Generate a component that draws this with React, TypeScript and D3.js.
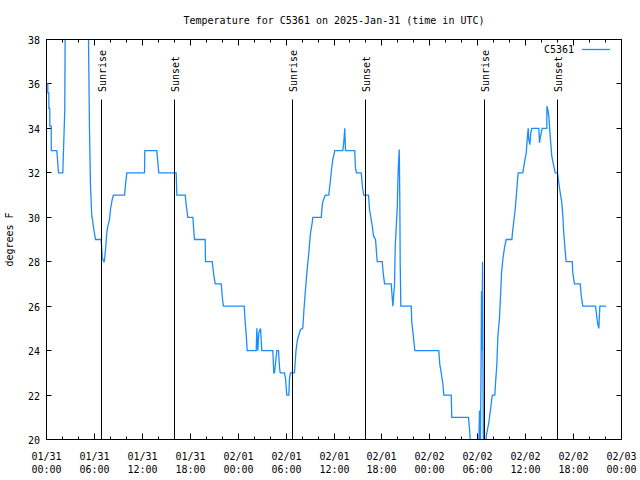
import React from 'react';
import * as d3 from 'd3';

const title = 'Temperature for C5361 on 2025-Jan-31 (time in UTC)';
const yAxisLabel = 'degrees F';
const seriesName = 'C5361';
const startUtc = Date.UTC(2025, 0, 31, 0, 0);
const endUtc = Date.UTC(2025, 1, 3, 0, 0);
const yTickValues = [20, 22, 24, 26, 28, 30, 32, 34, 36, 38];
const sunLabels = ['Sunrise', 'Sunset', 'Sunrise', 'Sunset', 'Sunrise', 'Sunset'];
const sunHours = [6.87, 16.0, 30.85, 39.95, 54.83, 63.95];

// hours since 2025-01-31 00:00 UTC
const hours = [
  0.0, 0.16, 0.17, 0.29, 0.3, 0.41, 0.42, 0.59, 0.6, 1.29, 1.38, 1.5, 2.04, 2.29, 2.34, 2.6, 4.9, 5.2, 5.26, 5.38,
  5.51, 5.67, 5.76, 5.92, 6.14, 6.85, 6.97, 7.18, 7.24, 7.39, 7.55, 7.68, 7.89, 8.01, 8.23, 8.39, 9.77, 9.89, 10.06, 12.27,
  12.31, 13.81, 14.06, 16.24, 16.32, 17.37, 17.49, 17.69, 18.32, 18.53, 19.87, 19.91, 20.75, 20.95, 21.12, 21.88, 22.04, 22.16, 24.76, 24.88,
  25.01, 25.13, 26.26, 26.34, 26.46, 26.59, 26.8, 26.96, 28.34, 28.46, 28.55, 28.84, 29.05, 29.18, 29.26, 29.8, 29.93, 30.09, 30.34, 30.43,
  30.55, 31.05, 31.24, 31.43, 31.81, 32.09, 32.24, 32.43, 32.64, 32.81, 32.93, 33.06, 33.27, 33.35, 34.4, 34.56, 34.9, 35.35, 35.56, 35.69,
  35.85, 36.1, 37.1, 37.22, 37.35, 37.44, 38.6, 38.69, 38.82, 39.41, 39.57, 39.73, 40.32, 40.45, 40.66, 40.79, 40.95, 41.2, 41.41, 42.04,
  42.16, 42.33, 43.16, 43.37, 43.58, 43.67, 43.92, 44.04, 44.17, 44.24, 44.29, 44.37, 45.67, 45.74, 45.92, 46.12, 49.12, 49.25, 49.43, 49.63,
  49.75, 50.68, 50.75, 52.84, 52.97, 53.1, 53.22, 54.06, 54.22, 54.31, 54.43, 54.47, 54.51, 54.6, 54.64, 54.73, 54.94, 55.06, 55.27, 55.39,
  55.57, 55.82, 56.14, 56.23, 56.39, 56.52, 56.73, 56.85, 56.98, 57.14, 57.35, 57.56, 58.27, 58.39, 58.69, 58.89, 59.06, 59.64, 59.85, 60.07,
  60.19, 60.32, 60.39, 60.52, 60.64, 60.77, 61.65, 61.73, 61.86, 62.07, 62.65, 62.66, 62.77, 62.9, 63.07, 63.27, 63.52, 63.7, 63.99, 64.15,
  64.33, 64.53, 64.66, 64.74, 64.95, 65.07, 65.83, 65.9, 66.11, 66.83, 66.95, 67.15, 68.75, 68.91, 69.04, 69.16, 69.29, 70.08,
];

const temps = [
  36, 36, 35.6, 35.6, 34.9, 34.9, 34.1, 34.1, 33, 33, 32.6, 32, 32, 34.85, 38.5, 41, 41, 39, 38, 34.04,
  31.4, 30.05, 29.9, 29.45, 29, 29, 28.2, 28, 28, 28.55, 29.3, 29.6, 29.9, 30.35, 30.8, 31, 31, 31.47, 32, 32,
  33, 33, 32, 32, 31, 31, 30.57, 30, 30, 29, 29, 28, 28, 27.4, 27, 27, 26.3, 26, 26, 25.27,
  24.7, 24, 24, 25, 24, 24.8, 25, 24, 24, 23, 23, 24, 24, 23.24, 23, 23, 22.75, 22, 22, 22.75,
  23, 23, 24, 24.5, 24.95, 25, 25.85, 26.75, 27.65, 28.25, 28.78, 29.3, 29.75, 30, 30, 30.65, 31, 31, 31.7, 32.15,
  32.6, 33, 33, 33.35, 34, 33, 33, 32.2, 32, 32, 31.34, 31, 31, 30.35, 29.9, 29.6, 29.15, 29, 28, 28,
  27.5, 27, 27, 26, 27, 28.7, 30.43, 32.15, 33.05, 30.8, 27.9, 26, 26, 25.27, 24.7, 24, 24, 23.37, 23, 22.5,
  22, 22, 21, 21, 20.45, 19.8, 18.6, 18.6, 21.3, 18.6, 24, 26.67, 24, 28, 24, 18.6, 18.6, 20.15, 20.54, 20.77,
  21.27, 22, 22, 22.56, 23.37, 24.65, 25.5, 26.45, 27.5, 28.1, 28.63, 29, 29, 29.45, 30.35, 31.25, 32, 32, 32.47, 32.9,
  33.5, 34, 33.5, 33.27, 33.8, 34, 34, 33.35, 33.65, 34, 34, 35, 34.85, 34.55, 33.65, 32.75, 32.3, 32, 32, 31.55,
  31.1, 30.65, 30.05, 29.45, 28.47, 28, 28, 27.5, 27, 27, 26.5, 26, 26, 25.5, 25.17, 25, 26, 26,
];

const W = 640;
const H = 480;
const left = 46.5;
const right = 621.5;
const top = 39.5;
const bottom = 439.5;
const FONT = '"DejaVu Sans Mono", "Liberation Mono", monospace';
const LINE_COLOR = '#1a8cff';

export default function App() {
  const x = d3.scaleUtc().domain([new Date(startUtc), new Date(endUtc)]).range([left, right]);
  const y = d3.scaleLinear().domain([20, 38]).range([bottom, top]);
  const hourMs = 3600 * 1000;
  const data = hours.map((h, i) => ({ t: new Date(startUtc + h * hourMs), v: temps[i] }));
  const line = d3
    .line<{ t: Date; v: number }>()
    .x((d) => x(d.t))
    .y((d) => y(d.v));

  const majorTicks = x.ticks(d3.utcHour.every(6)!);
  const minorTicks = x.ticks(d3.utcHour.every(2)!).filter((d) => d.getUTCHours() % 6 !== 0);
  const fmtDate = d3.utcFormat('%m/%d');
  const fmtTime = d3.utcFormat('%H:%M');
  const px = (v: number) => Math.floor(v) + 0.5;

  return (
    <svg
      width={W}
      height={H}
      viewBox={`0 0 ${W} ${H}`}
      style={{ position: 'absolute', left: 0, top: 0, background: '#fff', display: 'block' }}
      fontFamily={FONT}
      fontSize={10}
    >
      <rect x={0} y={0} width={W} height={H} fill="#fff" />
      <defs>
        <clipPath id="plotclip">
          <rect x={left} y={top} width={right - left} height={bottom - top} />
        </clipPath>
      </defs>

      {/* title */}
      <text x={(left + right) / 2} y={24} textAnchor="middle" fill="#000">
        {title}
      </text>

      {/* y axis label */}
      <text transform={`translate(13,${(top + bottom) / 2}) rotate(-90)`} textAnchor="middle" fill="#000">
        {yAxisLabel}
      </text>

      {/* y ticks */}
      {yTickValues.map((v) => {
        const yy = px(y(v));
        return (
          <g key={`y${v}`}>
            <line x1={left} x2={left + 5} y1={yy} y2={yy} stroke="#000" strokeWidth={1} />
            <line x1={right - 5} x2={right} y1={yy} y2={yy} stroke="#000" strokeWidth={1} />
            <text x={40} y={yy + 4} textAnchor="end" fill="#000">
              {v}
            </text>
          </g>
        );
      })}

      {/* x ticks */}
      {majorTicks.map((d) => {
        const xx = px(x(d));
        return (
          <g key={`xm${d.getTime()}`}>
            <line x1={xx} x2={xx} y1={bottom} y2={bottom - 6} stroke="#000" strokeWidth={1} />
            <line x1={xx} x2={xx} y1={top} y2={top + 6} stroke="#000" strokeWidth={1} />
            <text x={xx} y={459.5} textAnchor="middle" fill="#000">
              {fmtDate(d)}
            </text>
            <text x={xx} y={472.5} textAnchor="middle" fill="#000">
              {fmtTime(d)}
            </text>
          </g>
        );
      })}
      {minorTicks.map((d) => {
        const xx = px(x(d));
        return (
          <g key={`xn${d.getTime()}`}>
            <line x1={xx} x2={xx} y1={bottom} y2={bottom - 3} stroke="#000" strokeWidth={1} />
            <line x1={xx} x2={xx} y1={top} y2={top + 3} stroke="#000" strokeWidth={1} />
          </g>
        );
      })}

      {/* data line */}
      <g clipPath="url(#plotclip)">
        <path d={line(data) ?? ''} fill="none" stroke={LINE_COLOR} strokeWidth={1.3} strokeLinejoin="miter" />
      </g>

      {/* sunrise / sunset */}
      {sunHours.map((h, i) => {
        const xx = px(x(new Date(startUtc + h * hourMs)));
        return (
          <g key={`sun${i}`}>
            <line x1={xx} x2={xx} y1={99.5} y2={bottom} stroke="#000" strokeWidth={1} />
            <text transform={`translate(${xx + 4.5},92) rotate(-90)`} textAnchor="start" fill="#000">
              {sunLabels[i]}
            </text>
          </g>
        );
      })}

      {/* legend */}
      <text x={574} y={53} textAnchor="end" fill="#000">
        {seriesName}
      </text>
      <line x1={582} x2={610} y1={49.5} y2={49.5} stroke={LINE_COLOR} strokeWidth={1.3} />

      {/* frame */}
      <rect x={left} y={top} width={right - left} height={bottom - top} fill="none" stroke="#000" strokeWidth={1} />
    </svg>
  );
}
